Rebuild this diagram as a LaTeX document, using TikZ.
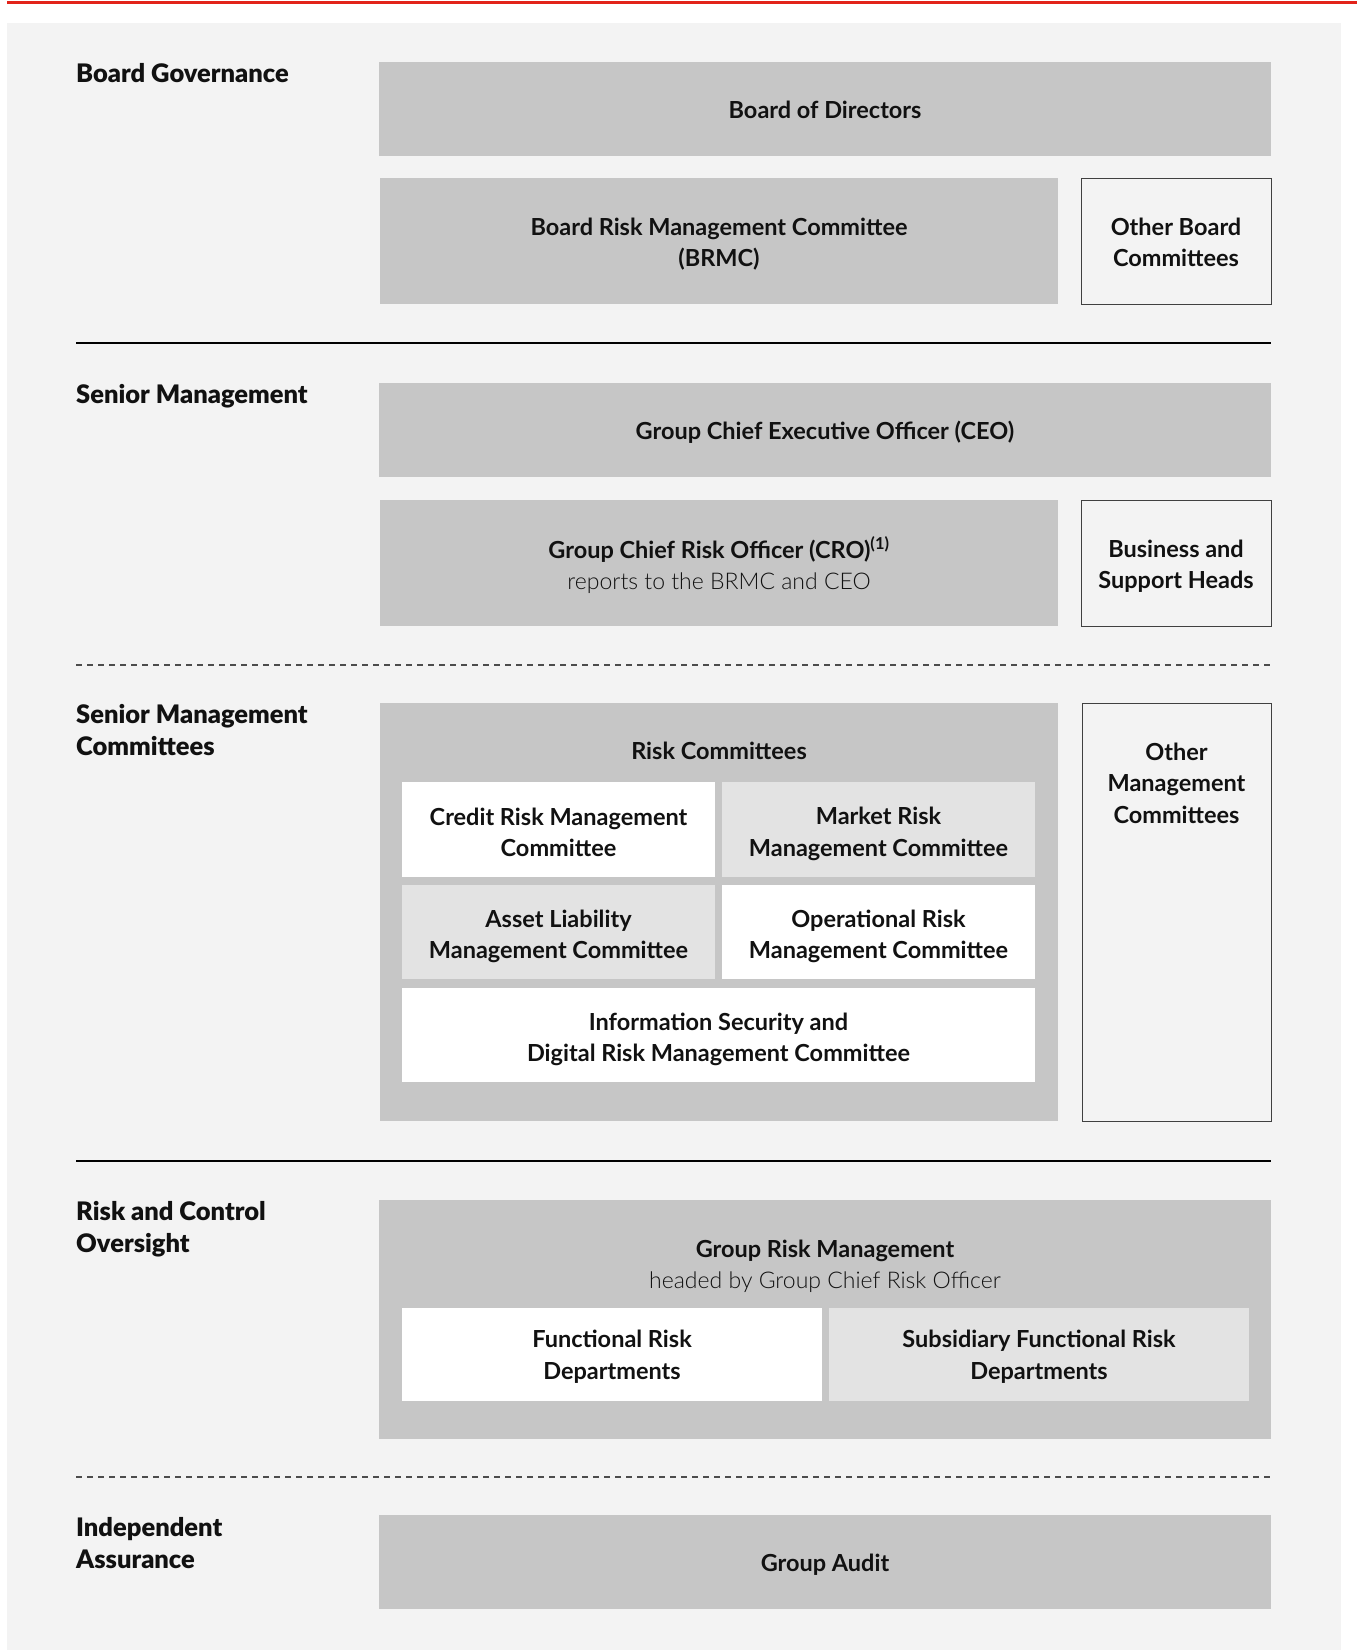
\documentclass[tikz,border=0pt]{standalone}
\usepackage{fontspec}
\setmainfont{Lato}
\newfontfamily\lightfont{Lato Light}
\newfontfamily\heavyfont{Lato Black}
\definecolor{panel}{HTML}{F3F3F3}
\definecolor{boxdark}{HTML}{C6C6C6}
\definecolor{boxlight}{HTML}{E3E3E3}
\definecolor{redline}{HTML}{E2231A}
\definecolor{ink}{HTML}{111111}
\begin{document}
\begin{tikzpicture}[x=1pt,y=-1pt,
  every node/.style={font=\fontsize{23.5}{31.5}\selectfont\bfseries, align=center, inner sep=0pt, text=ink},
  darkbox/.style={fill=boxdark, draw=none},
  lightbox/.style={fill=boxlight, draw=none},
  whitebox/.style={fill=white, draw=none},
  outbox/.style={fill=panel, draw=black!75, line width=1pt},
  boxtxt/.style={yshift=#1},
  boxtxt/.default=-2pt,
  lbl/.style={anchor=north west, align=left, font=\fontsize{25.5}{31.5}\selectfont\heavyfont},
  solidsep/.style={line width=2.6pt, draw=black},
  dashsep/.style={line width=1.2pt, draw=black!70, dash pattern=on 6pt off 5pt}]
\useasboundingbox (0,0) rectangle (1357,1650);
% red top line and panel
\fill[redline] (7,1.3) rectangle (1357,4.3);
\fill[panel] (7,23) rectangle (1341,1650);

% Board governance
\node[lbl] (lbg) at (76,63.5) {Board Governance};
\node[darkbox, minimum width=892, minimum height=94] (bod) at (825,109) {};
\node[boxtxt=-1pt] (bodt) at (bod) {Board of Directors};
\node[darkbox, minimum width=678, minimum height=126] (brmc) at (719,241) {};
\node[boxtxt=-3pt] (brmct) at (brmc) {Board Risk Management Committee\\(BRMC)};
\node[outbox, minimum width=190, minimum height=126] (obc) at (1176,241) {};
\node[boxtxt=-1.5pt] (obct) at (obc) {Other Board\\Committees};

\coordinate (s1a) at (76,343); \coordinate (s1b) at (1271,343);
\draw[solidsep] (s1a) -- (s1b);

% Senior management
\node[lbl] (lsm) at (76,384.5) {Senior Management};
\node[darkbox, minimum width=892, minimum height=94] (ceo) at (825,430) {};
\node[boxtxt=-2pt] (ceot) at (ceo) {Group Chief Executive Officer (CEO)};
\node[darkbox, minimum width=678, minimum height=126] (cro) at (719,563) {};
\node[boxtxt=-2pt] (crot) at (cro) {Group Chief Risk Officer (CRO)\textsuperscript{(1)}\\{\fontsize{23}{31.5}\selectfont\lightfont\mdseries reports to the BRMC and CEO}};
\node[outbox, minimum width=190, minimum height=126] (bsh) at (1176,563) {};
\node[boxtxt=-3pt] (bsht) at (bsh) {Business and\\Support Heads};

\coordinate (d1a) at (76,665); \coordinate (d1b) at (1271,665);
\draw[dashsep] (d1a) -- (d1b);

% Senior management committees
\node[lbl] (lsmc) at (76,704.5) {Senior Management\\Committees};
\node[darkbox, minimum width=678, minimum height=418] (rc) at (719,912) {};
\node (rct) at (719,751) {Risk Committees};
\node[whitebox, minimum width=313, minimum height=95] (crm) at (558.5,829.5) {};
\node[boxtxt=-3pt] (crmt) at (crm) {Credit Risk Management\\Committee};
\node[lightbox, minimum width=313, minimum height=95] (mrm) at (878.5,829.5) {};
\node[boxtxt=-4.2pt] (mrmt) at (mrm) {Market Risk\\Management Committee};
\node[lightbox, minimum width=313, minimum height=94] (alm) at (558.5,932) {};
\node[boxtxt=-4.2pt] (almt) at (alm) {Asset Liability\\Management Committee};
\node[whitebox, minimum width=313, minimum height=94] (orm) at (878.5,932) {};
\node[boxtxt=-4.2pt] (ormt) at (orm) {Operational Risk\\Management Committee};
\node[whitebox, minimum width=633, minimum height=94] (isd) at (718.5,1035) {};
\node[boxtxt=-4.2pt] (isdt) at (isd) {Information Security and\\Digital Risk Management Committee};
\node[outbox, minimum width=189, minimum height=418] (omc) at (1176.5,912) {};
\node (omct) at (1176.5,783) {Other\\Management\\Committees};

\coordinate (s2a) at (76,1161); \coordinate (s2b) at (1271,1161);
\draw[solidsep] (s2a) -- (s2b);

% Risk and control oversight
\node[lbl] (lrco) at (76,1201.5) {Risk and Control\\Oversight};
\node[darkbox, minimum width=892, minimum height=239] (grm) at (825,1319.5) {};
\node (grmt) at (825,1266.5) {Group Risk Management\\{\fontsize{23}{31.5}\selectfont\lightfont\mdseries headed by Group Chief Risk Officer}};
\node[whitebox, minimum width=420, minimum height=93] (frd) at (612,1354.5) {};
\node[boxtxt=-2pt] (frdt) at (frd) {Functional Risk\\Departments};
\node[lightbox, minimum width=420, minimum height=93] (sfrd) at (1039,1354.5) {};
\node[boxtxt=-2pt] (sfrdt) at (sfrd) {Subsidiary Functional Risk\\Departments};

\coordinate (d2a) at (76,1477); \coordinate (d2b) at (1271,1477);
\draw[dashsep] (d2a) -- (d2b);

% Independent assurance
\node[lbl] (lia) at (76,1517.5) {Independent\\Assurance};
\node[darkbox, minimum width=892, minimum height=94] (ga) at (825,1562) {};
\node[boxtxt=-3pt] (gat) at (ga) {Group Audit};
\end{tikzpicture}
\end{document}
